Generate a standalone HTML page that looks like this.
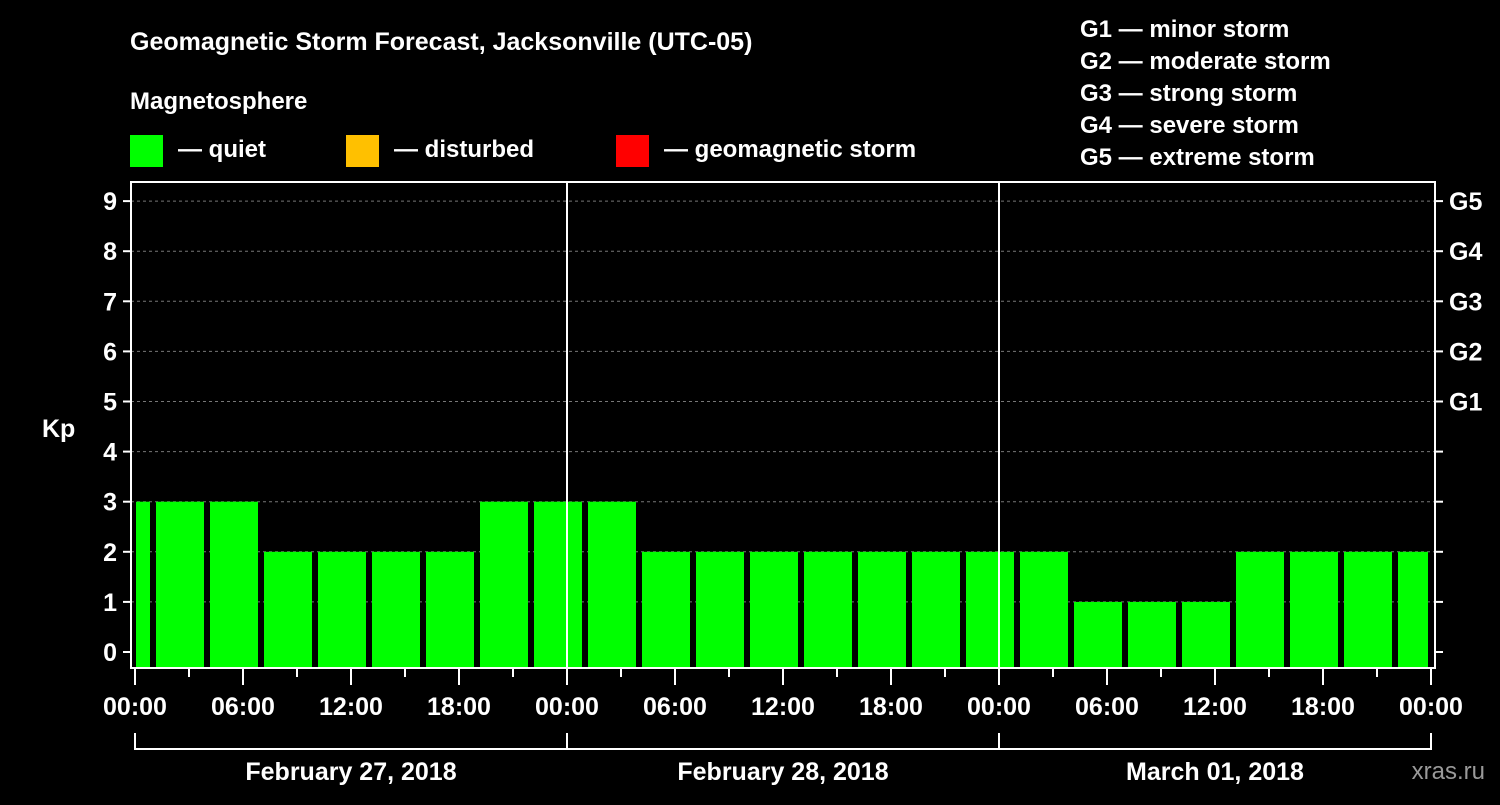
<!DOCTYPE html>
<html><head><meta charset="utf-8"><style>
body{margin:0;background:#000;width:1500px;height:800px;overflow:hidden}
svg text{font-family:"Liberation Sans",sans-serif;font-weight:bold;fill:#fff}
</style></head><body>
<svg id="c" width="1500" height="800">
<text x="130" y="50" font-size="25">Geomagnetic Storm Forecast, Jacksonville (UTC-05)</text>
<text x="130" y="109" font-size="24">Magnetosphere</text>
<rect x="130" y="135" width="33" height="32" fill="#00ff00"/>
<text x="178" y="157" font-size="24">— quiet</text>
<rect x="346" y="135" width="33" height="32" fill="#ffc000"/>
<text x="394" y="157" font-size="24">— disturbed</text>
<rect x="616" y="135" width="33" height="32" fill="#ff0000"/>
<text x="664" y="157" font-size="24">— geomagnetic storm</text>
<g font-size="24">
<text x="1080" y="37">G1 — minor storm</text>
<text x="1080" y="69">G2 — moderate storm</text>
<text x="1080" y="101">G3 — strong storm</text>
<text x="1080" y="133">G4 — severe storm</text>
<text x="1080" y="165">G5 — extreme storm</text>
</g>
<text x="42" y="437" font-size="25">Kp</text>
<text x="1485" y="779" font-size="24" fill="#888" style="fill:#999;font-weight:normal" text-anchor="end">xras.ru</text>
<g id="plot"></g>
</svg>
<script>
const kpValues=[3,3,3,2,2,2,2,3,3,3,2,2,2,2,2,2,2,2,1,1,1,2,2,2,2];
const kpTicks=[0,1,2,3,4,5,6,7,8,9];
const gLabels=["G1","G2","G3","G4","G5"];
const gLevels=[5,6,7,8,9];
const timeLabels=["00:00","06:00","12:00","18:00","00:00","06:00","12:00","18:00","00:00","06:00","12:00","18:00","00:00"];
const dayLabels=["February 27, 2018","February 28, 2018","March 01, 2018"];
const NS="http://www.w3.org/2000/svg";
const g=document.getElementById('plot');
const X0=135,PXH=18,L=131,R=1435,T=182,B=668;
const x=h=>X0+h*PXH;
const y=v=>652-v*50.1;
function mk(t,a){const e=document.createElementNS(NS,t);for(const k in a)e.setAttribute(k,a[k]);g.appendChild(e);return e;}
kpTicks.forEach(v=>{
 if(v>0){const l=mk('line',{x1:L,x2:R,y1:y(v),y2:y(v),stroke:'#777','stroke-dasharray':'3,3','stroke-width':1});
 
 }
 mk('line',{x1:L-8,x2:L,y1:y(v),y2:y(v),stroke:'#fff','stroke-width':2});
 mk('line',{x1:R,x2:R+8,y1:y(v),y2:y(v),stroke:'#fff','stroke-width':2});
 const t=mk('text',{x:L-14,y:y(v)+9,'font-size':25,'text-anchor':'end'});t.textContent=v;
 
 
});
gLevels.forEach((v,i)=>{const t=mk('text',{x:R+14,y:y(v)+9,'font-size':25});t.textContent=gLabels[i];
 
 });
kpValues.forEach((v,i)=>{
 let s=-2+3*i,e=s+3;s=Math.max(s,0);e=Math.min(e,72);
 const x1=x(s)+(i==0?1:3),x2=x(e)-3;
 const r=mk('rect',{x:x1,y:y(v),width:x2-x1,height:B-1-y(v),fill:v>=5?'#ff0000':v>=4?'#ffc000':'#00ff00'});
 
 
});
[1,2].forEach(d=>mk('line',{x1:x(24*d),x2:x(24*d),y1:T,y2:B,stroke:'#fff','stroke-width':2}));
mk('rect',{x:L,y:T,width:R-L,height:B-T,fill:'none',stroke:'#fff','stroke-width':2});
for(let h=0;h<=72;h+=3){mk('line',{x1:x(h),x2:x(h),y1:B,y2:B+(h%6==0?17:9),stroke:'#fff','stroke-width':2});}
timeLabels.forEach((s,i)=>{const t=mk('text',{x:x(i*6),y:715,'font-size':25,'text-anchor':'middle'});t.textContent=s;
 
 });
mk('line',{x1:x(0),x2:x(72),y1:749,y2:749,stroke:'#fff','stroke-width':2});
for(let d=0;d<=3;d++)mk('line',{x1:x(24*d),x2:x(24*d),y1:733,y2:750,stroke:'#fff','stroke-width':2});
dayLabels.forEach((s,i)=>{const t=mk('text',{x:x(24*i+12),y:780,'font-size':25,'text-anchor':'middle'});t.textContent=s;
 
 });
</script>
</body></html>
